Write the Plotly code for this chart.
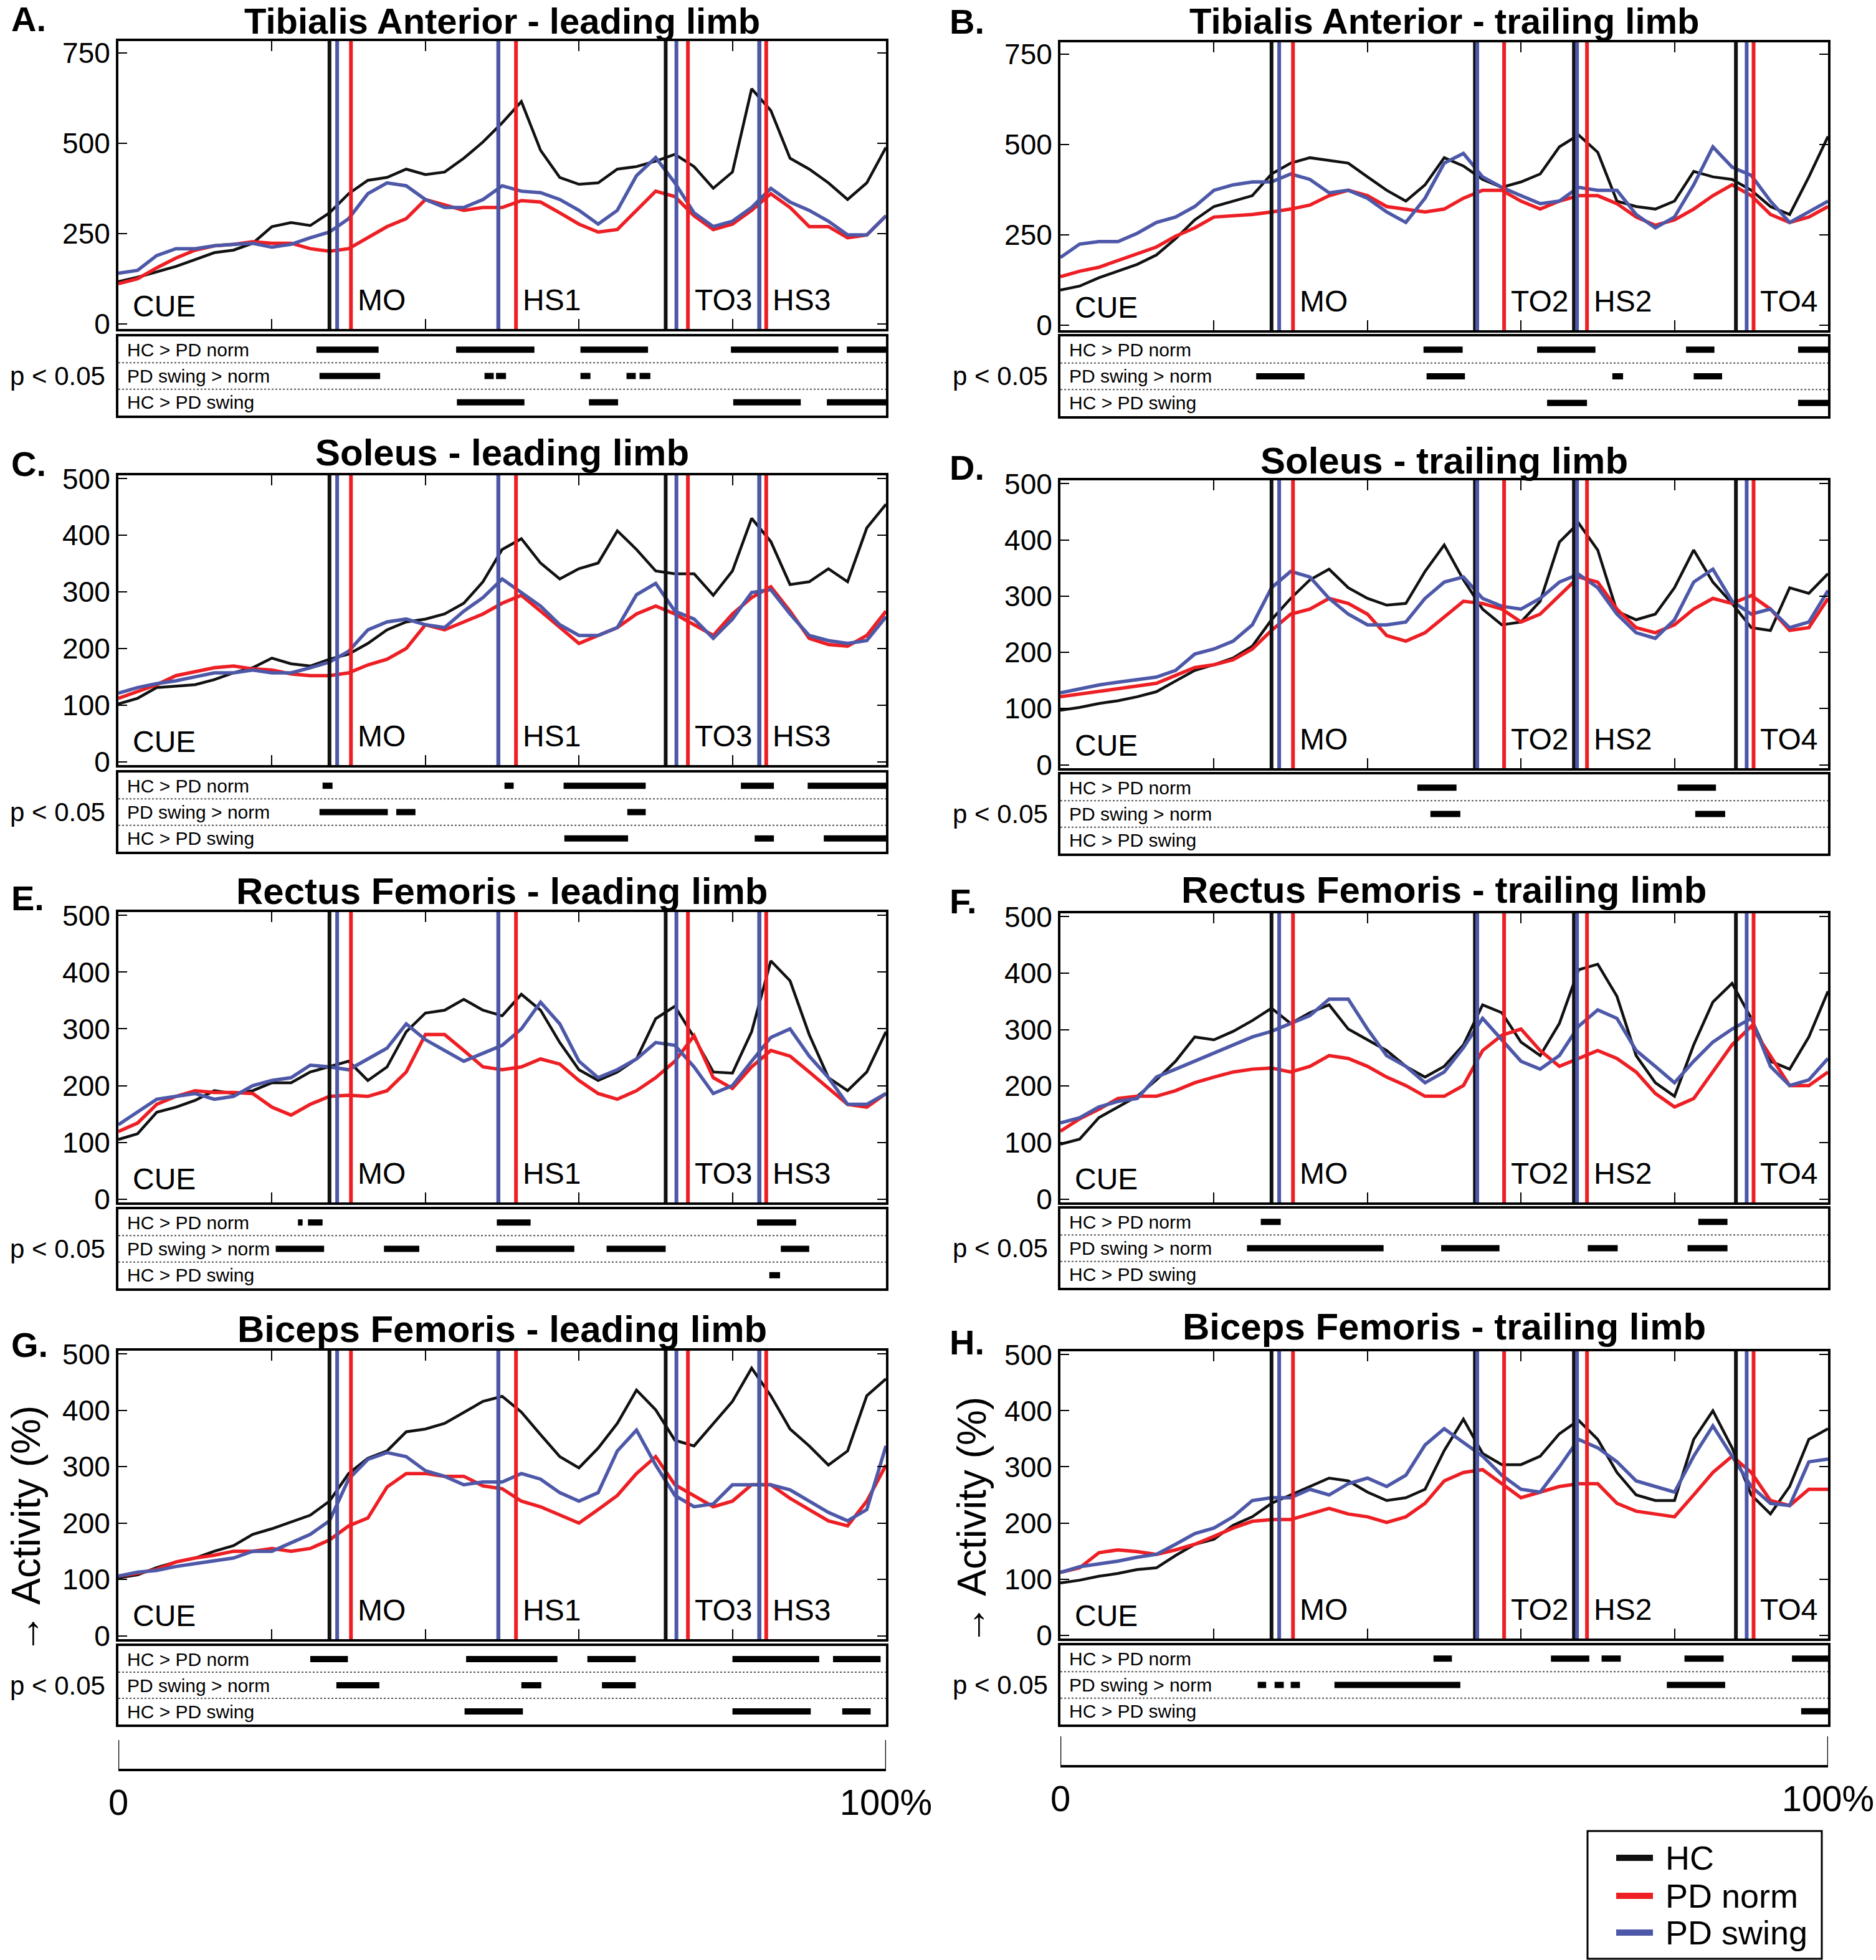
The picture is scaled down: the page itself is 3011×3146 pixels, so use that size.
import plotly.graph_objects as go

W, H = 3011, 3146
FONT = "Liberation Sans, Arial, Helvetica, sans-serif"
C_HC = "#111111"
C_NORM = "#ED1F24"
C_SWING = "#4D58A8"

# ---------------- data ----------------
CYCLE_PCT = [0, 2.5, 5, 7.5, 10, 12.5, 15, 17.5, 20, 22.5, 25, 27.5, 30, 32.5, 35, 37.5, 40,
             42.5, 45, 47.5, 50, 52.5, 55, 57.5, 60, 62.5, 65, 67.5, 70, 72.5, 75, 77.5, 80,
             82.5, 85, 87.5, 90, 92.5, 95, 97.5, 100]

TA_LEAD_HC = [117, 129, 144, 159, 178, 197, 204, 223, 269, 280, 272, 307, 360, 397, 405, 428, 413, 420, 458, 503,
              556, 615, 480, 405, 386, 390, 428, 435, 450, 469, 435, 375, 420, 650, 590, 458, 428, 390, 344, 390, 488]
TA_LEAD_NORM = [111, 125, 155, 182, 204, 216, 220, 227, 223, 223, 208, 201, 208, 238, 269, 291, 344, 329, 314, 322,
                322, 341, 337, 307, 276, 254, 261, 314, 367, 352, 299, 261, 276, 314, 360, 322, 269, 269, 238, 246, 299]
TA_LEAD_SWING = [140, 148, 189, 208, 208, 216, 220, 223, 212, 220, 238, 254, 291, 360, 390, 382, 344, 322, 322, 344,
                 382, 367, 363, 344, 314, 276, 314, 410, 460, 390, 307, 269, 284, 322, 375, 337, 314, 284, 246, 246, 299]

TA_TRAIL_HC = [97, 108, 131, 149, 168, 194, 239, 291, 328, 343, 358, 418, 448, 463, 455, 448, 410, 373, 343, 388,
               463, 440, 403, 381, 396, 418, 493, 526, 478, 343, 328, 321, 343, 425, 410, 403, 373, 328, 306, 410, 522]
TA_TRAIL_NORM = [134, 149, 160, 179, 198, 216, 246, 269, 299, 302, 306, 313, 321, 332, 358, 373, 358, 328, 321, 313,
                 321, 351, 373, 373, 343, 321, 343, 358, 358, 336, 299, 276, 291, 321, 358, 388, 358, 306, 284, 299, 328]
TA_TRAIL_SWING = [187, 224, 231, 231, 254, 284, 299, 328, 373, 388, 396, 396, 418, 403, 366, 373, 351, 313, 284, 351,
                  448, 475, 410, 381, 358, 336, 343, 381, 373, 373, 306, 269, 299, 388, 493, 437, 414, 343, 284, 313, 343]

SOL_LEAD_HC = [102, 112, 131, 133, 136, 145, 157, 166, 183, 173, 169, 181, 190, 209, 233, 247, 252, 261, 280, 318,
               375, 394, 351, 323, 341, 351, 408, 375, 337, 332, 332, 294, 337, 430, 389, 313, 318, 341, 318, 413, 455]
SOL_LEAD_NORM = [112, 124, 136, 152, 159, 166, 169, 164, 162, 155, 152, 152, 157, 171, 181, 200, 242, 233, 247, 261,
                 280, 294, 266, 237, 209, 223, 237, 261, 275, 261, 242, 223, 261, 290, 309, 266, 218, 207, 204, 223, 266]
SOL_LEAD_SWING = [121, 131, 138, 143, 150, 157, 157, 162, 157, 157, 166, 176, 195, 233, 247, 252, 242, 237, 266, 290,
                  323, 299, 275, 242, 223, 223, 237, 295, 315, 266, 252, 218, 252, 299, 304, 261, 223, 214, 209, 214, 256]

SOL_TRAIL_HC = [97, 102, 109, 114, 121, 130, 149, 168, 178, 190, 211, 258, 296, 329, 348, 315, 296, 284, 287, 344,
                391, 329, 277, 249, 254, 291, 396, 430, 382, 273, 258, 268, 315, 382, 325, 287, 244, 239, 315, 305, 340]
SOL_TRAIL_NORM = [121, 126, 130, 135, 140, 145, 159, 173, 178, 187, 206, 239, 268, 277, 296, 287, 268, 230, 220, 235,
                  263, 291, 287, 277, 254, 268, 301, 334, 325, 277, 244, 235, 249, 277, 296, 287, 301, 277, 239, 244, 296]
SOL_TRAIL_SWING = [128, 135, 142, 147, 152, 156, 168, 197, 206, 220, 249, 315, 344, 334, 296, 268, 249, 249, 254, 296,
                   325, 334, 296, 282, 277, 296, 325, 339, 315, 268, 235, 225, 258, 325, 348, 291, 268, 277, 244, 254, 310]

RF_LEAD_HC = [105, 115, 153, 162, 174, 191, 186, 191, 205, 205, 224, 233, 243, 209, 233, 295, 328, 333, 352, 333,
              323, 361, 333, 276, 228, 209, 224, 247, 318, 340, 285, 224, 222, 295, 420, 385, 290, 214, 191, 224, 295]
RF_LEAD_NORM = [119, 134, 167, 181, 191, 188, 188, 186, 162, 148, 167, 181, 183, 181, 191, 224, 290, 290, 262, 233,
                228, 233, 247, 238, 209, 186, 176, 191, 214, 243, 288, 214, 195, 233, 262, 252, 224, 195, 167, 162, 186]
RF_LEAD_SWING = [131, 153, 176, 181, 186, 176, 181, 200, 209, 214, 236, 233, 228, 247, 266, 309, 281, 262, 243, 257,
                 271, 300, 347, 309, 243, 214, 228, 247, 276, 271, 233, 186, 200, 243, 285, 300, 252, 214, 167, 167, 186]

RF_TRAIL_HC = [97, 106, 144, 163, 182, 211, 244, 287, 282, 297, 316, 338, 311, 330, 344, 301, 282, 263, 235, 216,
               235, 273, 344, 330, 278, 254, 311, 406, 416, 359, 254, 206, 182, 273, 349, 382, 320, 244, 230, 287, 368]
RF_TRAIL_NORM = [120, 142, 159, 178, 182, 182, 192, 206, 216, 225, 230, 232, 225, 235, 254, 249, 235, 216, 201, 182,
                 182, 201, 263, 290, 301, 263, 235, 249, 263, 249, 225, 187, 163, 178, 225, 273, 306, 254, 201, 201, 225]
RF_TRAIL_SWING = [135, 144, 163, 173, 178, 216, 230, 244, 259, 273, 287, 297, 311, 325, 354, 354, 301, 254, 235, 206,
                  225, 268, 320, 282, 244, 230, 254, 306, 335, 320, 263, 235, 206, 244, 278, 301, 320, 235, 201, 211, 249]

BF_LEAD_HC = [103, 108, 121, 131, 138, 150, 160, 180, 190, 202, 214, 239, 288, 315, 328, 362, 367, 377, 397, 416,
              425, 397, 357, 318, 298, 333, 377, 436, 401, 347, 337, 377, 416, 475, 426, 367, 337, 303, 328, 426, 456]
BF_LEAD_NORM = [106, 111, 118, 131, 138, 143, 150, 150, 155, 150, 155, 170, 195, 209, 264, 288, 288, 283, 283, 266,
                261, 239, 229, 214, 200, 224, 249, 288, 318, 268, 249, 229, 239, 268, 268, 244, 224, 204, 195, 239, 303]
BF_LEAD_SWING = [106, 113, 116, 123, 128, 133, 138, 150, 150, 165, 180, 204, 278, 313, 325, 318, 293, 283, 268, 273,
                 273, 288, 278, 254, 239, 254, 328, 365, 303, 249, 229, 234, 268, 268, 268, 259, 239, 219, 204, 224, 337]

BF_TRAIL_HC = [93, 98, 105, 110, 117, 120, 142, 162, 171, 196, 211, 235, 250, 265, 280, 275, 255, 240, 245, 260,
               329, 385, 324, 304, 304, 319, 359, 383, 349, 290, 250, 240, 240, 349, 400, 334, 250, 216, 265, 349, 368]
BF_TRAIL_NORM = [112, 120, 147, 152, 149, 144, 152, 162, 176, 191, 203, 206, 206, 216, 226, 216, 211, 201, 211, 235,
                 275, 290, 295, 270, 245, 255, 265, 270, 270, 235, 221, 216, 211, 250, 290, 319, 290, 240, 231, 260, 260]
BF_TRAIL_SWING = [112, 122, 127, 132, 139, 144, 162, 181, 191, 211, 240, 245, 245, 260, 250, 270, 280, 265, 285, 339,
                  368, 344, 319, 285, 260, 255, 300, 349, 334, 309, 275, 265, 255, 319, 373, 319, 265, 235, 231, 309, 314]

# significance rows: [HC > PD norm, PD swing > norm, HC > PD swing], intervals in % of cycle
SIG_ROW_LABELS = ["HC > PD norm", "PD swing > norm", "HC > PD swing"]
TA_LEAD_SIG = [[(25.8, 33.9), (44.0, 54.2), (60.2, 69.0), (79.8, 93.8), (94.9, 100)],
               [(26.2, 34.1), (47.7, 48.9), (49.2, 50.5), (60.2, 61.5), (66.2, 67.4), (67.9, 69.3)],
               [(44.1, 52.9), (61.3, 65.1), (80.1, 88.9), (92.3, 100)]]
TA_TRAIL_SIG = [[(47.3, 52.4), (62.1, 69.7), (81.5, 85.2), (96.1, 100)],
                [(25.5, 31.8), (47.7, 52.7), (71.9, 73.3), (82.5, 86.2)],
                [(63.4, 68.6), (96.1, 100)]]
SOL_LEAD_SIG = [[(26.6, 27.9), (50.3, 51.5), (58.0, 68.7), (81.1, 85.4), (89.8, 100)],
                [(26.2, 35.1), (36.2, 38.7), (66.3, 68.7)],
                [(58.1, 66.4), (82.9, 85.4), (91.9, 100)]]
SOL_TRAIL_SIG = [[(46.5, 51.6), (80.4, 85.4)],
                 [(48.2, 52.1), (82.7, 86.6)],
                 []]
RF_LEAD_SIG = [[(23.4, 24.0), (24.7, 26.6), (49.3, 53.7), (83.2, 88.3)],
               [(20.5, 26.8), (34.6, 39.2), (49.2, 59.4), (63.6, 71.3), (86.3, 90.0)],
               [(84.8, 86.2)]]
RF_TRAIL_SIG = [[(26.1, 28.7), (83.1, 86.9)],
                [(24.3, 42.1), (49.6, 57.2), (68.7, 72.6), (81.7, 86.9)],
                []]
BF_LEAD_SIG = [[(25.0, 29.9), (45.3, 57.2), (61.1, 67.4), (80.0, 91.3), (93.1, 99.3)],
               [(28.4, 34.0), (52.5, 55.1), (63.0, 67.4)],
               [(45.1, 52.7), (80.0, 90.2), (94.3, 98.0)]]
BF_TRAIL_SIG = [[(48.6, 51.0), (63.9, 68.9), (70.5, 73.0), (81.3, 86.4), (95.3, 100)],
                [(25.7, 26.8), (27.9, 29.1), (30.0, 31.2), (35.7, 52.1), (79.0, 86.6)],
                [(96.5, 100)]]

# gait events (% of cycle)
LEAD_EVENT_NAMES = ["CUE", "MO", "HS1", "TO3", "HS3"]
LEAD_EVENTS_HC = [27.5, 49.5, 71.3, 83.5]
LEAD_EVENTS_SWING = [28.5, 49.5, 72.7, 83.5]
LEAD_EVENTS_NORM = [30.3, 51.8, 74.2, 84.4]
TRAIL_EVENT_NAMES = ["CUE", "MO", "TO2", "HS2", "TO4"]
TRAIL_EVENTS_HC = [27.5, 54.0, 66.9, 88.0]
TRAIL_EVENTS_SWING = [28.5, 54.3, 67.3, 89.4]
TRAIL_EVENTS_NORM = [30.3, 57.8, 68.6, 90.3]

TITLES = ["Tibialis Anterior - leading limb", "Tibialis Anterior - trailing limb",
          "Soleus - leading limb", "Soleus - trailing limb",
          "Rectus Femoris - leading limb", "Rectus Femoris - trailing limb",
          "Biceps Femoris - leading limb", "Biceps Femoris - trailing limb"]
LETTERS = ["A.", "B.", "C.", "D.", "E.", "F.", "G.", "H."]
TICKS_750 = [0, 250, 500, 750]
TICKS_500 = [0, 100, 200, 300, 400, 500]
GROUP_NAMES = ["HC", "PD norm", "PD swing"]
TIME_TICKS = [0, 100]
TIME_TICK_TEXT = ["0", "100%"]

SERIES = [
    (TA_LEAD_HC, TA_LEAD_NORM, TA_LEAD_SWING, TA_LEAD_SIG),
    (TA_TRAIL_HC, TA_TRAIL_NORM, TA_TRAIL_SWING, TA_TRAIL_SIG),
    (SOL_LEAD_HC, SOL_LEAD_NORM, SOL_LEAD_SWING, SOL_LEAD_SIG),
    (SOL_TRAIL_HC, SOL_TRAIL_NORM, SOL_TRAIL_SWING, SOL_TRAIL_SIG),
    (RF_LEAD_HC, RF_LEAD_NORM, RF_LEAD_SWING, RF_LEAD_SIG),
    (RF_TRAIL_HC, RF_TRAIL_NORM, RF_TRAIL_SWING, RF_TRAIL_SIG),
    (BF_LEAD_HC, BF_LEAD_NORM, BF_LEAD_SWING, BF_LEAD_SIG),
    (BF_TRAIL_HC, BF_TRAIL_NORM, BF_TRAIL_SWING, BF_TRAIL_SIG),
]

# ---------------- layout geometry (pixels) ----------------
COL_X = {"L": (190, 1422), "R": (1702, 2934)}
# col, plot top, plot bottom, sig top, sig bottom, title y (None = top-anchored), letter y
GEOM = [
    ("L", 66, 528, 540, 667, None, 31),
    ("R", 68, 530, 540, 668, None, 35),
    ("L", 763, 1228, 1240, 1367, 727, 744),
    ("R", 771, 1233, 1243, 1370, 740, 750),
    ("L", 1464, 1930, 1941, 2068, 1430, 1441),
    ("R", 1466, 1930, 1940, 2067, 1428, 1446),
    ("L", 2168, 2631, 2642, 2768, 2133, 2158),
    ("R", 2169, 2630, 2641, 2768, 2129, 2154),
]


def px_x(x):
    return x / W


def px_y(y):
    return 1 - y / H


def aname(kind, n):
    return f"{kind}axis" if n == 1 else f"{kind}axis{n}"


def aref(kind, n):
    return kind if n == 1 else f"{kind}{n}"


fig = go.Figure()
layout = dict(
    width=W, height=H, autosize=False,
    margin=dict(l=0, r=0, t=0, b=0, autoexpand=False),
    paper_bgcolor="white", plot_bgcolor="white",
    font=dict(family=FONT, color="black"),
    showlegend=False,
)
shapes = []
annotations = []

for i, ((hc, norm, swing, sig), (col, top, bot, stop, sbot, ty, ly)) in enumerate(zip(SERIES, GEOM)):
    lead = (i % 2 == 0)
    nm = 2 * i + 1
    ns = 2 * i + 2
    xm, ym = aref("x", nm), aref("y", nm)
    xs, ys = aref("x", ns), aref("y", ns)
    x0, x1 = COL_X[col]
    dom_x = [px_x(x0), px_x(x1)]

    if i < 2:
        yr, tv = [-14, 782], TICKS_750
    else:
        yr, tv = [-6, 506], TICKS_500

    layout[aname("x", nm)] = dict(domain=dom_x, anchor=ym, range=[0, 100], tickvals=[20, 40, 60, 80],
                                  ticks="inside", ticklen=16, tickwidth=2, tickcolor="black",
                                  showticklabels=False, showline=True, linewidth=4, linecolor="black",
                                  mirror="ticks", showgrid=False, zeroline=False, automargin=False)
    layout[aname("y", nm)] = dict(domain=[px_y(bot), px_y(top)], anchor=xm, range=yr, tickvals=tv,
                                  ticks="inside", ticklen=14, tickwidth=2, tickcolor="black",
                                  showline=True, linewidth=4, linecolor="black", mirror="ticks",
                                  tickfont=dict(size=46, family=FONT, color="black"),
                                  showgrid=False, zeroline=False, automargin=False)
    layout[aname("x", ns)] = dict(domain=dom_x, anchor=ys, range=[0, 100], showticklabels=False,
                                  ticks="", showline=True, linewidth=4, linecolor="black", mirror=True,
                                  showgrid=False, zeroline=False, automargin=False)
    layout[aname("y", ns)] = dict(domain=[px_y(sbot), px_y(stop)], anchor=xs, range=[0, 3],
                                  showticklabels=False, ticks="", showline=True, linewidth=4,
                                  linecolor="black", mirror=True, showgrid=False, zeroline=False,
                                  automargin=False)

    # curves
    for vals, name, color, wd in ((hc, "HC", C_HC, 4.5), (norm, "PD norm", C_NORM, 5.5),
                                  (swing, "PD swing", C_SWING, 5.5)):
        fig.add_trace(go.Scatter(x=CYCLE_PCT, y=vals, mode="lines", name=name,
                                 line=dict(color=color, width=wd),
                                 xaxis=xm, yaxis=ym, showlegend=False, hoverinfo="skip"))

    # event lines
    ev_hc, ev_sw, ev_nm = ((LEAD_EVENTS_HC, LEAD_EVENTS_SWING, LEAD_EVENTS_NORM) if lead
                           else (TRAIL_EVENTS_HC, TRAIL_EVENTS_SWING, TRAIL_EVENTS_NORM))
    for evs, color in ((ev_hc, C_HC), (ev_sw, C_SWING), (ev_nm, C_NORM)):
        for e in evs:
            shapes.append(dict(type="line", xref=xm, yref=f"{ym} domain", x0=e, x1=e, y0=0, y1=1,
                               line=dict(color=color, width=6), layer="above"))

    # event labels
    names = LEAD_EVENT_NAMES if lead else TRAIL_EVENT_NAMES
    annotations.append(dict(xref=xm, yref=f"{ym} domain", x=1.7, y=0.08, text=names[0],
                            showarrow=False, xanchor="left", yanchor="middle",
                            font=dict(size=48, family=FONT, color="black")))
    for name, e in zip(names[1:], ev_nm):
        annotations.append(dict(xref=xm, yref=f"{ym} domain", x=e + 0.7, y=0.10, text=name,
                                showarrow=False, xanchor="left", yanchor="middle",
                                font=dict(size=48, family=FONT, color="black")))

    # significance bars
    bx, by = [], []
    for r, intervals in enumerate(sig):
        yc = 2.5 - r
        for s, e in intervals:
            bx += [s, e, None]
            by += [yc, yc, None]
    if bx:
        fig.add_trace(go.Scatter(x=bx, y=by, mode="lines", line=dict(color="black", width=10),
                                 xaxis=xs, yaxis=ys, showlegend=False, hoverinfo="skip"))
    for yv in (1, 2):
        shapes.append(dict(type="line", xref=f"{xs} domain", yref=ys, x0=0, x1=1, y0=yv, y1=yv,
                           line=dict(color="#555555", width=2, dash="dot"), layer="above"))
    for r, lab in enumerate(SIG_ROW_LABELS):
        annotations.append(dict(xref=xs, yref=ys, x=1.0, y=2.5 - r, text=lab, showarrow=False,
                                xanchor="left", yanchor="middle",
                                font=dict(size=30, family=FONT, color="black")))
    annotations.append(dict(xref="paper", yref="paper", x=px_x(14 if col == "L" else 1527),
                            y=px_y((stop + sbot) / 2), text="p < 0.05", showarrow=False,
                            xanchor="left", yanchor="middle",
                            font=dict(size=42, family=FONT, color="black")))

    # title and letter
    if ty is None:
        annotations.append(dict(xref="paper", yref="paper", x=px_x((x0 + x1) / 2), y=1.0,
                                text=f"<b>{TITLES[i]}</b>", showarrow=False, xanchor="center",
                                yanchor="top", borderpad=0,
                                font=dict(size=58, family=FONT, color="black")))
    else:
        annotations.append(dict(xref="paper", yref="paper", x=px_x((x0 + x1) / 2), y=px_y(ty),
                                text=f"<b>{TITLES[i]}</b>", showarrow=False, xanchor="center",
                                yanchor="middle", font=dict(size=60, family=FONT, color="black")))
    annotations.append(dict(xref="paper", yref="paper", x=px_x(16 if col == "L" else 1522), y=px_y(ly),
                            text=f"<b>{LETTERS[i]}</b>", showarrow=False, xanchor="left",
                            yanchor="middle", font=dict(size=56, family=FONT, color="black")))

# bottom time axes (0 - 100 %)
for n, col, yline in ((17, "L", 2839), (18, "R", 2833)):
    x0, x1 = COL_X[col]
    xr, yr_ = aref("x", n), aref("y", n)
    layout[aname("x", n)] = dict(domain=[px_x(x0), px_x(x1)], anchor=yr_, range=[0, 100],
                                 tickvals=TIME_TICKS, ticktext=TIME_TICK_TEXT, ticks="",
                                 showline=True, linewidth=4, linecolor="black", showgrid=False,
                                 zeroline=False, ticklabelstandoff=0, automargin=False,
                                 tickfont=dict(size=58, family=FONT, color="black"))
    layout[aname("y", n)] = dict(domain=[px_y(yline), px_y(yline - 46)], anchor=xr, range=[0, 1],
                                 visible=False, automargin=False)
    fig.add_trace(go.Scatter(x=[0, 100], y=[0, 0], mode="lines", line=dict(width=0, color="white"),
                             opacity=0, xaxis=xr, yaxis=yr_, showlegend=False, hoverinfo="skip"))
    for t in TIME_TICKS:
        shapes.append(dict(type="line", xref=xr, yref=f"{yr_} domain", x0=t, x1=t, y0=0, y1=1,
                           line=dict(color="black", width=2.5), layer="above"))

# y-axis titles
for xc, yc in ((42, 2455), (1560, 2441)):
    annotations.append(dict(xref="paper", yref="paper", x=px_x(xc), y=px_y(yc), text="→ Activity (%)",
                            textangle=-90, showarrow=False, xanchor="center", yanchor="middle",
                            borderpad=0, font=dict(size=64, family=FONT, color="black")))

# legend (drawn as a boxed key)
LEG_BOX = (2548, 2939, 2924, 3144)
shapes.append(dict(type="rect", xref="paper", yref="paper", x0=px_x(LEG_BOX[0]), x1=px_x(LEG_BOX[2]),
                   y0=px_y(LEG_BOX[3]), y1=px_y(LEG_BOX[1]), line=dict(color="black", width=3),
                   fillcolor="white", layer="above"))
for name, color, yc in zip(GROUP_NAMES, (C_HC, C_NORM, C_SWING), (2982, 3043, 3102)):
    shapes.append(dict(type="line", xref="paper", yref="paper", x0=px_x(2594), x1=px_x(2653),
                       y0=px_y(yc), y1=px_y(yc), line=dict(color=color, width=10), layer="above"))
    annotations.append(dict(xref="paper", yref="paper", x=px_x(2671), y=px_y(yc), text=name,
                            showarrow=False, xanchor="left", yanchor="middle",
                            font=dict(size=54, family=FONT, color="black")))

layout["shapes"] = shapes
layout["annotations"] = annotations
fig.update_layout(**layout)
fig.write_html("out.html")
